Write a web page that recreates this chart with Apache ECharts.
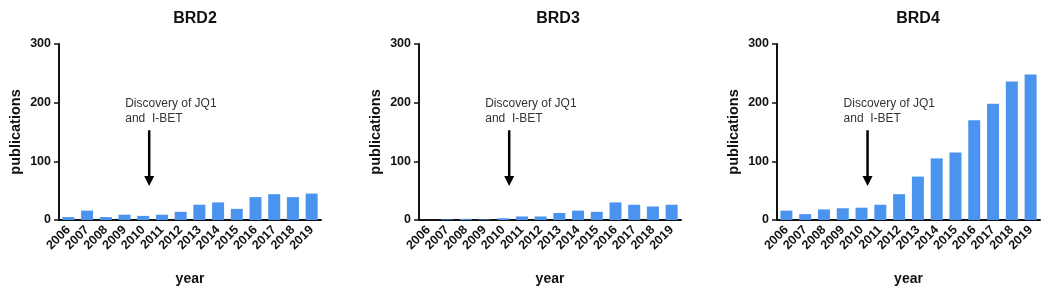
<!DOCTYPE html>
<html>
<head>
<meta charset="utf-8">
<script src="https://cdn.jsdelivr.net/npm/echarts@6/dist/echarts.min.js"></script>
<style>
  html, body { margin: 0; padding: 0; background: #fff; }
  #chart { width: 1050px; height: 291px; }
</style>
</head>
<body>
<div id="chart"></div>
<script>
// publications per year
const years = ['2006', '2007', '2008', '2009', '2010', '2011', '2012', '2013', '2014', '2015', '2016', '2017', '2018', '2019']
const brd2 = [5, 16, 5, 9, 7, 9, 14, 26, 30, 19, 39, 44, 39, 45]
const brd3 = [0, 1, 2, 1, 3, 6, 6, 12, 16, 14, 30, 26, 23, 26]
const brd4 = [16, 10, 18, 20, 21, 26, 44, 74, 105, 115, 170, 198, 236, 248]
const panelTitles = ['BRD2', 'BRD3', 'BRD4']
const yTicks = [0, 100, 200, 300]

const FONT = '"Liberation Sans", Arial, sans-serif'
const BAR = '#4a94ef'
const INK = '#111'

// one panel per gene
const panels = [
  { data: brd2, left: 59, width: 262, titleX: 190 },
  { data: brd3, left: 419, width: 262, titleX: 553 },
  { data: brd4, left: 777, width: 263, titleX: 913 },
]

const chart = echarts.init(document.getElementById('chart'))

const option = {
  backgroundColor: '#fff',
  animation: false,
  title: panels.map((p, i) => ({
    text: panelTitles[i],
    left: p.titleX,
    top: 6,
    textAlign: 'center',
    textStyle: { fontFamily: FONT, fontSize: 16, fontWeight: 'bold', color: INK },
  })),
  grid: panels.map(p => ({
    left: p.left,
    width: p.width,
    top: 44,
    height: 176,
  })),
  xAxis: panels.map((p, i) => ({
    type: 'category',
    gridIndex: i,
    data: years,
    name: 'year',
    nameLocation: 'middle',
    nameGap: 52,
    nameTextStyle: { fontFamily: FONT, fontSize: 14, fontWeight: 'bold', color: INK },
    axisLine: { lineStyle: { color: INK, width: 2 } },
    axisTick: { alignWithLabel: true, length: 5, lineStyle: { color: INK, width: 1.5 } },
    axisLabel: {
      rotate: 45,
      interval: 0,
      margin: 8,
      fontFamily: FONT,
      fontSize: 12.5,
      fontWeight: 'bold',
      color: INK,
    },
  })),
  yAxis: panels.map((p, i) => ({
    type: 'value',
    gridIndex: i,
    min: yTicks[0],
    max: yTicks[yTicks.length - 1],
    interval: 100,
    name: 'publications',
    nameLocation: 'middle',
    nameGap: 36,
    nameTextStyle: { fontFamily: FONT, fontSize: 14.5, fontWeight: 'bold', color: INK },
    axisLine: { show: true, lineStyle: { color: INK, width: 2 } },
    axisTick: { show: true, length: 5, lineStyle: { color: INK, width: 1.5 } },
    axisLabel: { margin: 8, fontFamily: FONT, fontSize: 12.5, fontWeight: 'bold', color: INK },
    splitLine: { show: false },
  })),
  series: panels.map((p, i) => ({
    type: 'bar',
    xAxisIndex: i,
    yAxisIndex: i,
    data: p.data,
    barWidth: 12,
    itemStyle: { color: BAR },
  })),
}

chart.setOption(option)

// annotation: text + arrow placed between 2010 and 2011 of each panel
const graphics = []
panels.forEach((p, i) => {
  const a = chart.convertToPixel({ gridIndex: i }, ['2010', 153])
  const b = chart.convertToPixel({ gridIndex: i }, ['2011', 58])
  const x = a[0] + (b[0] - a[0]) * 0.32
  const top = a[1]
  const bottom = b[1]
  graphics.push({
    type: 'text',
    left: x - 24,
    top: 96,
    style: {
      text: 'Discovery of JQ1\nand  I-BET',
      font: '12px ' + FONT,
      fill: '#333',
      lineHeight: 15,
    },
  })
  graphics.push({
    type: 'line',
    shape: { x1: x, y1: top, x2: x, y2: bottom - 8 },
    style: { stroke: '#000', lineWidth: 2.5 },
  })
  graphics.push({
    type: 'polygon',
    shape: { points: [[x - 5, bottom - 10], [x + 5, bottom - 10], [x, bottom]] },
    style: { fill: '#000' },
  })
})
chart.setOption({ graphic: graphics })
</script>
</body>
</html>
